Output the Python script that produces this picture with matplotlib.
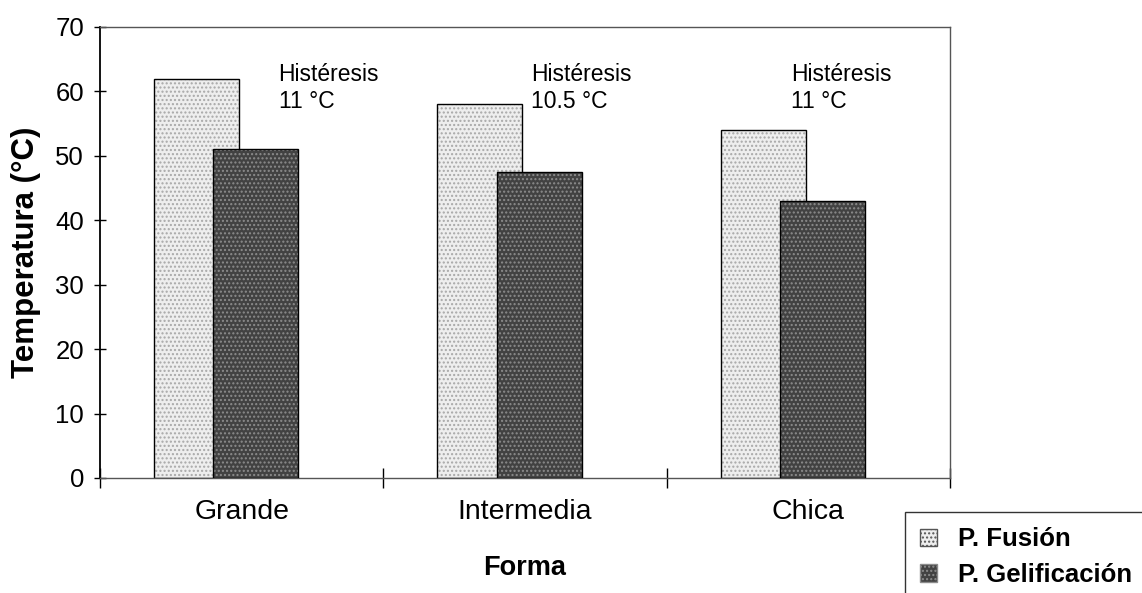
import numpy as np
import matplotlib
matplotlib.use("agg")
from matplotlib import pyplot as plt
from matplotlib.patches import Patch

plt.rcParams['font.family'] = ['Liberation Sans', 'DejaVu Sans']

# data
categorias = ["Grande", "Intermedia", "Chica"]
p_fusion = [62, 58, 54]
p_gelificacion = [51, 47.5, 43]
histeresis = ["11 °C", "10.5 °C", "11 °C"]
series = ["P. Fusión", "P. Gelificación"]

x = np.arange(len(categorias))
ancho = 0.30

fig = plt.figure(figsize=(11.42, 5.93), dpi=100)
ax = fig.add_axes([0.0876, 0.194, 0.7443, 0.7605])

# textured fill first, then a plain outline on top
def barras(pos, vals, cara, trama, z):
    ax.bar(pos, vals, ancho, color=cara, hatch='....', edgecolor=trama,
           linewidth=0, zorder=z)
    ax.bar(pos, vals, ancho, fill=False, edgecolor='black', linewidth=1.0,
           zorder=z + 0.1)

barras(x - 0.16, p_fusion, '#eeeeee', '#a8a8a8', 2)
barras(x + 0.05, p_gelificacion, '#424242', '#8c8c8c', 3)

# histéresis notes next to each pair
for i, h in enumerate(histeresis):
    xt = x[i] + 0.05 - ancho / 2 + [0.23, 0.12, 0.04][i]
    ax.text(xt, 62.6, "Histéresis", fontsize=16.5, va='center', ha='left')
    ax.text(xt, 58.4, h, fontsize=16.5, va='center', ha='left')

ax.set_xlim(-0.5, 2.5)
ax.set_ylim(0, 70)
ax.set_yticks(range(0, 71, 10))
ax.set_xticks(x)
ax.set_xticklabels(categorias, fontsize=20.5)
ax.set_xticks([-0.5, 0.5, 1.5, 2.5], minor=True)
ax.tick_params(axis='y', direction='inout', length=9, width=1, labelsize=18.5, pad=7)
ax.tick_params(axis='x', which='major', length=0, pad=15)
ax.tick_params(axis='x', which='minor', direction='inout', length=14, width=1)

for s in ['top', 'right', 'bottom']:
    ax.spines[s].set_color('#555555')
    ax.spines[s].set_linewidth(1.0)
ax.spines['left'].set_linewidth(1.3)

ax.set_ylabel("Temperatura (°C)", fontsize=22.5, fontweight='bold', labelpad=10)
ax.set_xlabel("Forma", fontsize=19.5, fontweight='bold', labelpad=22)

manejadores = [Patch(facecolor='#eeeeee', edgecolor='#555555', hatch='....'),
               Patch(facecolor='#424242', edgecolor='#8c8c8c', hatch='....')]
leg = fig.legend(manejadores, series, loc='upper left',
                 bbox_to_anchor=(0.7925, 0.1366),
                 prop={'weight': 'bold', 'size': 18.5}, frameon=True,
                 fancybox=False, edgecolor='black', handlelength=0.65,
                 handleheight=0.65, handletextpad=0.8, borderpad=0.6,
                 labelspacing=0.45, borderaxespad=0)
leg.get_frame().set_linewidth(1.0)

fig.savefig("out.png", dpi=100)
